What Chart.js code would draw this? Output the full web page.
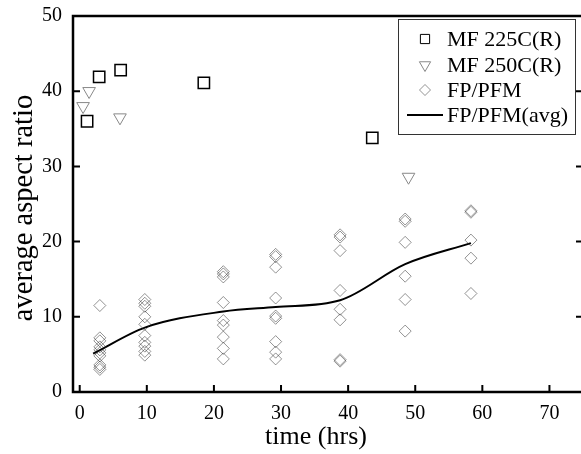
<!DOCTYPE html>
<html>
<head>
<meta charset="utf-8">
<script src="https://cdn.jsdelivr.net/npm/chart.js@4/dist/chart.umd.min.js"></script>
<style>
  html, body { margin: 0; padding: 0; background: #fff; overflow: hidden; }
  #wrap { width: 581px; height: 454px; overflow: hidden; position: relative; }
  canvas { display: block; }
</style>
</head>
<body>
<div id="wrap"><canvas id="c" width="600" height="454"></canvas></div>
<script>
// Tick values on each axis
const xTicks = [0, 10, 20, 30, 40, 50, 60, 70];
const yTicks = [0, 10, 20, 30, 40, 50];

// MF 225C(R) measurements
const mf225Time  = [1.1, 2.9, 6.1, 18.5, 43.6];
const mf225Ratio = [36.0, 41.9, 42.8, 41.1, 33.8];

// MF 250C(R) measurements
const mf250Time  = [0.5, 1.4, 6.0, 49.0];
const mf250Ratio = [38.0, 40.0, 36.5, 28.6];

// FP/PFM individual measurements, one list per sampling time
const fpSampleTimes = [3.0, 9.7, 21.4, 29.2, 38.8, 48.5, 58.3];
const fpRatioByTime = [
  [11.5, 7.2, 6.8, 6.0, 5.6, 5.2, 4.8, 3.6, 3.3, 3.0],
  [12.3, 11.8, 11.4, 10.0, 9.0, 7.5, 6.6, 6.1, 5.4, 4.9],
  [16.0, 15.7, 15.3, 11.9, 9.5, 8.9, 7.3, 5.8, 4.4],
  [18.3, 18.0, 16.6, 12.5, 10.1, 9.8, 6.7, 5.3, 4.4],
  [20.9, 20.6, 18.8, 13.5, 11.0, 9.6, 4.3, 4.1],
  [23.0, 22.7, 19.9, 15.4, 12.3, 8.1],
  [24.1, 23.9, 20.2, 17.8, 13.1]
];

// FP/PFM average curve
const avgTime  = [2.0, 9.8, 21.4, 29.2, 38.8, 48.5, 58.3];
const avgRatio = [5.1, 8.6, 10.7, 11.3, 12.2, 17.0, 19.8];

const serif = "'Liberation Serif', 'Times New Roman', Times, serif";

function pairs(xs, ys) {
  return xs.map((x, i) => ({ x: x, y: ys[i] }));
}
function groupPoints(times, groups) {
  const out = [];
  times.forEach((t, i) => groups[i].forEach(v => out.push({ x: t, y: v })));
  return out;
}

// Closed frame with inward-pointing tick marks
const framePlugin = {
  id: 'frame',
  afterDatasetsDraw(chart) {
    const { ctx, chartArea: a, scales: { x, y } } = chart;
    ctx.save();
    ctx.strokeStyle = '#000';
    ctx.lineWidth = 2.5;
    ctx.strokeRect(a.left, a.top, a.right - a.left, a.bottom - a.top);
    ctx.lineWidth = 2;
    ctx.beginPath();
    x.ticks.forEach(t => {
      const px = x.getPixelForValue(t.value);
      ctx.moveTo(px, a.bottom);
      ctx.lineTo(px, a.bottom - 7);
    });
    y.ticks.forEach(t => {
      const py = y.getPixelForValue(t.value);
      ctx.moveTo(a.left, py);
      ctx.lineTo(a.left + 7, py);
      ctx.moveTo(a.right, py);
      ctx.lineTo(a.right - 7, py);
    });
    ctx.stroke();
    ctx.restore();
  }
};

// Boxed legend in the upper right corner of the plot
const boxLegend = {
  id: 'boxLegend',
  afterDraw(chart) {
    const { ctx } = chart;
    const left = 398, top = 19, right = 575, bottom = 134;
    const rowY = [39, 65, 90, 115];
    ctx.save();
    ctx.fillStyle = '#fff';
    ctx.fillRect(left, top, right - left, bottom - top);
    ctx.strokeStyle = '#333';
    ctx.lineWidth = 1;
    ctx.strokeRect(left + 0.5, top + 0.5, right - left, bottom - top);
    chart.data.datasets.forEach((ds, i) => {
      const yy = rowY[i];
      if (ds.showLine) {
        ctx.strokeStyle = ds.borderColor;
        ctx.lineWidth = ds.borderWidth;
        ctx.beginPath();
        ctx.moveTo(407, yy);
        ctx.lineTo(443, yy);
        ctx.stroke();
      } else {
        ctx.strokeStyle = ds.borderColor;
        ctx.fillStyle = 'rgba(0,0,0,0)';
        ctx.lineWidth = 1;
        Chart.helpers.drawPoint(ctx, {
          pointStyle: ds.pointStyle,
          rotation: ds.rotation || 0,
          radius: ds.legendRadius,
          borderWidth: 1
        }, 425, yy);
      }
      ctx.fillStyle = '#000';
      ctx.font = '22px ' + serif;
      ctx.textAlign = 'left';
      ctx.textBaseline = 'middle';
      ctx.fillText(ds.label, 447, yy + 1);
    });
    ctx.restore();
  }
};

// Axis titles
const axisTitles = {
  id: 'axisTitles',
  afterDraw(chart) {
    const { ctx } = chart;
    ctx.save();
    ctx.fillStyle = '#000';
    ctx.textAlign = 'center';
    ctx.textBaseline = 'middle';
    ctx.font = '26px ' + serif;
    ctx.fillText('time (hrs)', 316, 437);
    ctx.font = '28.5px ' + serif;
    ctx.translate(25, 208);
    ctx.rotate(-Math.PI / 2);
    ctx.fillText('average aspect ratio', 0, 0);
    ctx.restore();
  }
};

new Chart(document.getElementById('c'), {
  type: 'scatter',
  data: {
    datasets: [
      {
        label: 'MF 225C(R)',
        data: pairs(mf225Time, mf225Ratio),
        pointStyle: 'rect',
        pointRadius: 8,
        borderColor: '#000',
        backgroundColor: 'rgba(0,0,0,0)',
        borderWidth: 1.5,
        legendRadius: 6.5
      },
      {
        label: 'MF 250C(R)',
        data: pairs(mf250Time, mf250Ratio),
        pointStyle: 'triangle',
        rotation: 180,
        pointRotation: 180,
        pointRadius: 7.3,
        borderColor: '#888',
        backgroundColor: 'rgba(0,0,0,0)',
        borderWidth: 1,
        legendRadius: 6.5
      },
      {
        label: 'FP/PFM',
        data: groupPoints(fpSampleTimes, fpRatioByTime),
        pointStyle: 'rectRot',
        pointRadius: 6,
        borderColor: 'rgba(40,40,40,0.5)',
        backgroundColor: 'rgba(0,0,0,0)',
        borderWidth: 1,
        legendRadius: 5.5
      },
      {
        label: 'FP/PFM(avg)',
        data: pairs(avgTime, avgRatio),
        showLine: true,
        cubicInterpolationMode: 'monotone',
        borderColor: '#000',
        borderWidth: 2,
        pointRadius: 0,
        fill: false
      }
    ]
  },
  options: {
    responsive: false,
    animation: false,
    devicePixelRatio: 1,
    events: [],
    layout: { padding: { top: 16, right: 17, left: 0, bottom: 0 } },
    plugins: { legend: { display: false }, tooltip: { enabled: false } },
    scales: {
      x: {
        type: 'linear',
        min: -1,
        max: 75,
        afterBuildTicks: s => { s.ticks = xTicks.map(v => ({ value: v })); },
        afterFit: s => { s.height = 62; s.paddingLeft = 0; s.paddingRight = 0; },
        grid: { display: false, drawTicks: false },
        border: { display: false },
        ticks: { font: { family: serif, size: 20 }, color: '#000', padding: 10, maxRotation: 0 }
      },
      y: {
        type: 'linear',
        min: 0,
        max: 50,
        afterBuildTicks: s => { s.ticks = yTicks.map(v => ({ value: v })); },
        afterFit: s => { s.width = 73; s.paddingTop = 0; s.paddingBottom = 0; },
        grid: { display: false, drawTicks: false },
        border: { display: false },
        ticks: { font: { family: serif, size: 20 }, color: '#000', padding: 11 }
      }
    }
  },
  plugins: [framePlugin, boxLegend, axisTitles]
});
</script>
</body>
</html>
